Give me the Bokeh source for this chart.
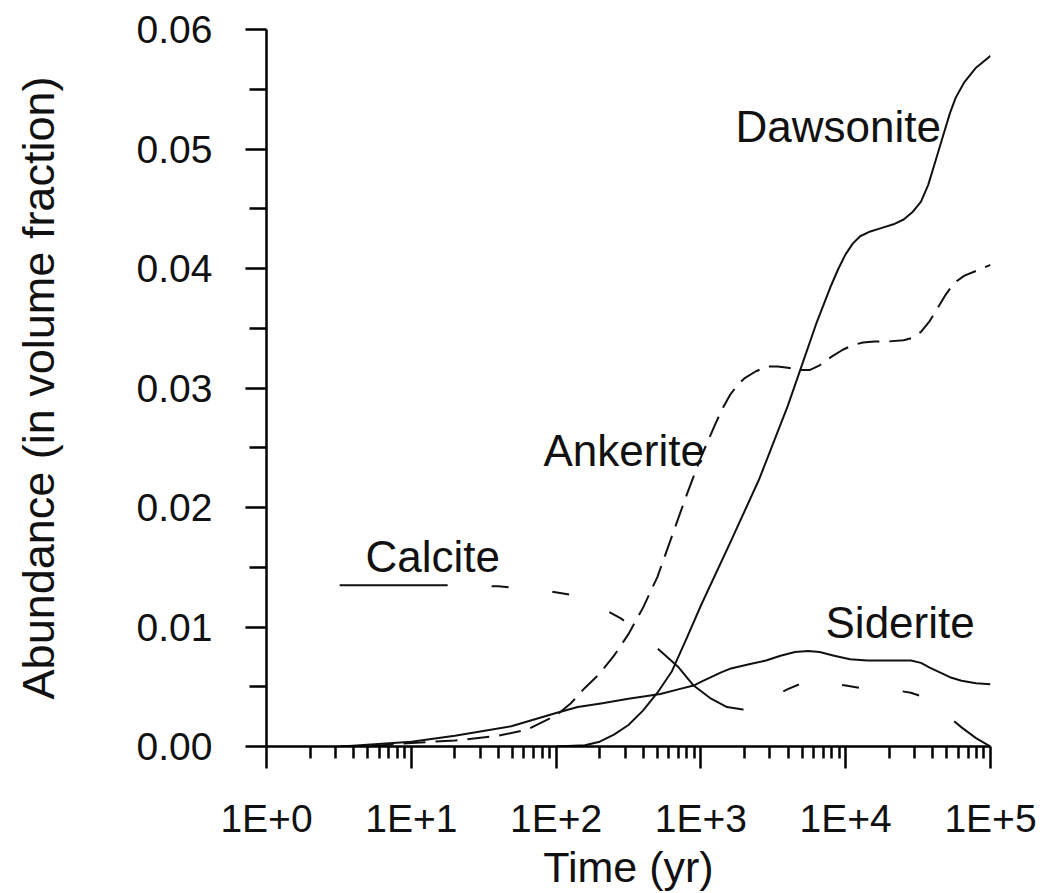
from bokeh.plotting import figure
from bokeh.models import Range1d, FixedTicker, CustomJSTickFormatter, PrintfTickFormatter, ColumnDataSource
from bokeh.core.properties import value
from bokeh.embed import file_html
from bokeh.resources import INLINE

FONT = "Liberation Sans"

# ---------------- data (time in years, abundance in volume fraction) ----------------
dawsonite_t = [100, 158, 200, 251, 316, 398, 501, 631, 794, 1000, 1585, 2512, 3981, 5012,
               6310, 7943, 8913, 10000, 11220, 12590, 14790, 17780, 21380, 25120, 28840,
               33110, 37150, 41690, 46770, 52480, 57540, 66070, 79430, 100000]
dawsonite_v = [0.0, 0.0001, 0.0004, 0.0010, 0.0018, 0.0030, 0.0045, 0.0063, 0.0090, 0.0118,
               0.0170, 0.0223, 0.0285, 0.0320, 0.0355, 0.0386, 0.0400, 0.0412, 0.0421, 0.0427,
               0.0431, 0.0434, 0.0437, 0.0441, 0.0447, 0.0456, 0.0470, 0.0490, 0.0510, 0.0530,
               0.0543, 0.0556, 0.0568, 0.0578]

ankerite_t = [3.2, 6.3, 10, 20, 40, 63, 100, 126, 158, 200, 251, 316, 398, 501, 631, 794,
              1000, 1259, 1413, 1585, 1778, 1995, 2399, 2884, 3388, 3981, 4786, 5623, 6607,
              7943, 9550, 11220, 13180, 15850, 19950, 25120, 28840, 33110, 38020, 42660,
              48980, 56230, 66070, 79430, 100000]
ankerite_v = [0.0, 0.0001, 0.0003, 0.0005, 0.0009, 0.0014, 0.0026, 0.0036, 0.0049, 0.0061,
              0.0076, 0.0094, 0.0116, 0.0142, 0.0176, 0.0210, 0.0242, 0.0270, 0.0283, 0.0294,
              0.0302, 0.0308, 0.0314, 0.0318, 0.0318, 0.0317, 0.0315, 0.0315, 0.0319, 0.0326,
              0.0332, 0.0336, 0.0338, 0.0339, 0.0339, 0.0340, 0.0342, 0.0347, 0.0356, 0.0366,
              0.0378, 0.0388, 0.0394, 0.0398, 0.0403]

siderite_t = [3.3, 10, 20, 49, 100, 141, 204, 316, 525, 708, 891, 1000, 1175, 1380, 1585,
              2188, 2818, 3548, 4467, 5495, 6607, 8318, 10720, 14130, 19950, 28180, 33110,
              38020, 44670, 52480, 63100, 79430, 100000]
siderite_v = [0.0, 0.0004, 0.0009, 0.0017, 0.0028, 0.0033, 0.0036, 0.0040, 0.0044, 0.0048,
              0.0051, 0.0054, 0.0058, 0.0062, 0.0065, 0.0069, 0.0072, 0.0076, 0.0079, 0.0080,
              0.0079, 0.0076, 0.0073, 0.0072, 0.0072, 0.0072, 0.0070, 0.0066, 0.0062, 0.0058,
              0.0055, 0.0053, 0.0052]

calcite_t = [3.2, 10, 20, 40, 79, 126, 200, 282, 398, 525, 692, 891, 1175, 1514, 1950,
             2512, 3162, 3981, 5012, 6310, 7943, 10000, 12590, 19950, 28180, 35480, 41690,
             50120, 63100, 79430, 100000]
calcite_v = [0.0135, 0.0135, 0.0135, 0.0134, 0.0131, 0.0127, 0.0117, 0.0107, 0.0093, 0.0080,
             0.0067, 0.0051, 0.0040, 0.0033, 0.0031, 0.0035, 0.0042, 0.0048, 0.0053, 0.0055,
             0.0053, 0.0051, 0.0049, 0.0048, 0.0045, 0.0041, 0.0035, 0.0026, 0.0016, 0.0007,
             0.0]

label_names = ["Dawsonite", "Ankerite", "Calcite", "Siderite"]
label_t = [1734, 81.8, 4.83, 7253]
label_v = [0.0519, 0.0248, 0.0159, 0.0104]

x_ticks = [1, 10, 100, 1000, 10000, 100000]
x_tick_labels = ["1E+0", "1E+1", "1E+2", "1E+3", "1E+4", "1E+5"]
y_ticks = [0.0, 0.01, 0.02, 0.03, 0.04, 0.05, 0.06]
y_minor = [0.005, 0.015, 0.025, 0.035, 0.045, 0.055]

# ---------------- figure ----------------
p = figure(width=1043, height=893, x_axis_type="log",
           x_range=Range1d(1, 100000), y_range=Range1d(0, 0.06),
           output_backend="svg", toolbar_location=None,
           min_border_left=266, min_border_right=53, min_border_top=29, min_border_bottom=145)
p.outline_line_color = None
p.xgrid.visible = False
p.ygrid.visible = False
p.background_fill_color = "white"
p.border_fill_color = "white"

LC = "#111111"
p.line(dawsonite_t, dawsonite_v, line_color=LC, line_width=2, line_join="round")
p.line(ankerite_t, ankerite_v, line_color=LC, line_width=2, line_dash="22 10", line_join="round")
p.line(siderite_t, siderite_v, line_color=LC, line_width=2, line_join="round")
p.line(calcite_t, calcite_v, line_color=LC, line_width=2, line_join="round",
       line_dash="108 44 17 44 17 44 17 44")

src = ColumnDataSource(dict(x=label_t, y=label_v, text=label_names))
p.text(x="x", y="y", text="text", source=src, text_font=value(FONT),
       text_font_size=value("44px"), text_color="#111111",
       text_align="left", text_baseline="alphabetic")

minor_x = [m * d for d in [1, 10, 100, 1000, 10000] for m in range(2, 10)]

xa = p.xaxis[0]
xa.ticker = FixedTicker(ticks=x_ticks, minor_ticks=minor_x)
xa.formatter = CustomJSTickFormatter(args=dict(labels=x_tick_labels),
                                     code="return labels[Math.round(Math.log10(tick))];")
xa.axis_label = "Time (yr)"

ya = p.yaxis[0]
ya.ticker = FixedTicker(ticks=y_ticks, minor_ticks=y_minor)
ya.formatter = PrintfTickFormatter(format="%.2f")
ya.axis_label = "Abundance (in volume fraction)"

for ax in (xa, ya):
    ax.axis_line_color = "black"
    ax.axis_line_width = 2.5
    ax.major_tick_line_color = "black"
    ax.major_tick_line_width = 2.5
    ax.minor_tick_line_color = "black"
    ax.minor_tick_line_width = 2.5
    ax.major_tick_in = 0
    ax.minor_tick_in = 0
    ax.major_label_text_font = FONT
    ax.major_label_text_font_size = "39px"
    ax.major_label_text_color = "#111111"
    ax.axis_label_text_font = FONT
    ax.axis_label_text_font_style = "normal"
    ax.axis_label_text_color = "#111111"

xa.axis_label_text_font_size = "43px"
ya.axis_label_text_font_size = "45px"

xa.major_tick_out = 22
xa.minor_tick_out = 12
xa.major_label_standoff = 28
xa.axis_label_standoff = 0

ya.major_tick_out = 21
ya.minor_tick_out = 17
ya.major_label_standoff = 33
ya.axis_label_standoff = 70

open("out.html", "w").write(file_html(p, INLINE))
